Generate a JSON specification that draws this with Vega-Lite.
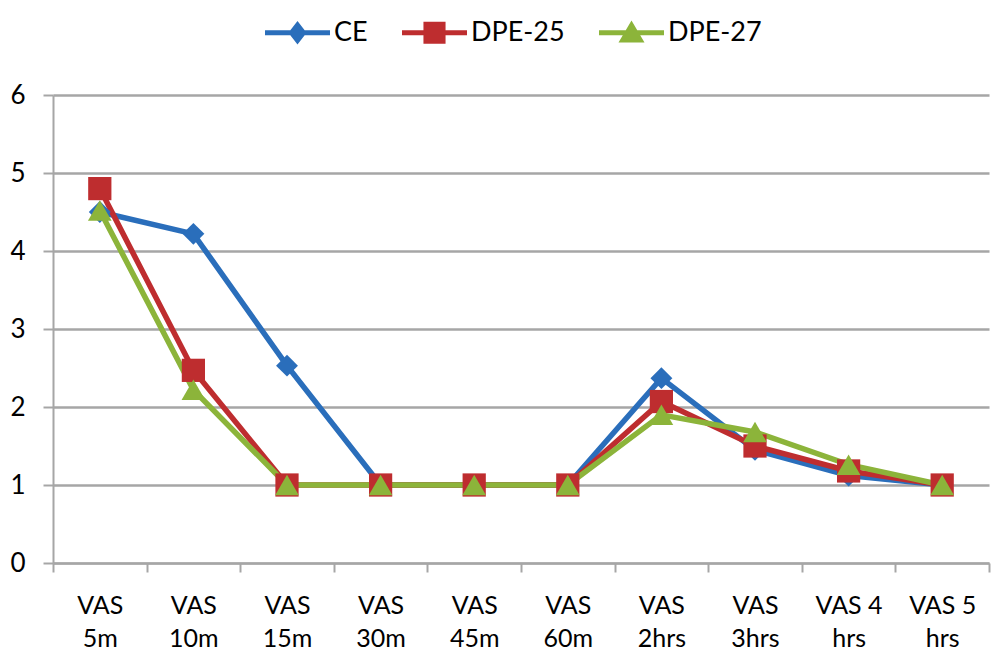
{
  "$schema": "https://vega.github.io/schema/vega-lite/v6.json",
  "width": 1003,
  "height": 667,
  "autosize": {"type": "fit", "contains": "padding"},
  "padding": {"left": 9, "top": 82, "right": 13, "bottom": 16},
  "background": "white",
  "config": {
    "font": "Lato",
    "view": {"stroke": null},
    "axis": {"labelFont": "Lato", "labelFontSize": 25, "labelColor": "#000000"}
  },
  "data": {
    "values": [
      {"time": "VAS 5m", "series": "CE", "value": 4.5},
      {"time": "VAS 10m", "series": "CE", "value": 4.22},
      {"time": "VAS 15m", "series": "CE", "value": 2.53},
      {"time": "VAS 30m", "series": "CE", "value": 1},
      {"time": "VAS 45m", "series": "CE", "value": 1},
      {"time": "VAS 60m", "series": "CE", "value": 1},
      {"time": "VAS 2hrs", "series": "CE", "value": 2.37},
      {"time": "VAS 3hrs", "series": "CE", "value": 1.45},
      {"time": "VAS 4 hrs", "series": "CE", "value": 1.12},
      {"time": "VAS 5 hrs", "series": "CE", "value": 1},
      {"time": "VAS 5m", "series": "DPE-25", "value": 4.8},
      {"time": "VAS 10m", "series": "DPE-25", "value": 2.47},
      {"time": "VAS 15m", "series": "DPE-25", "value": 1},
      {"time": "VAS 30m", "series": "DPE-25", "value": 1},
      {"time": "VAS 45m", "series": "DPE-25", "value": 1},
      {"time": "VAS 60m", "series": "DPE-25", "value": 1},
      {"time": "VAS 2hrs", "series": "DPE-25", "value": 2.07},
      {"time": "VAS 3hrs", "series": "DPE-25", "value": 1.5},
      {"time": "VAS 4 hrs", "series": "DPE-25", "value": 1.18},
      {"time": "VAS 5 hrs", "series": "DPE-25", "value": 1},
      {"time": "VAS 5m", "series": "DPE-27", "value": 4.52},
      {"time": "VAS 10m", "series": "DPE-27", "value": 2.22},
      {"time": "VAS 15m", "series": "DPE-27", "value": 1},
      {"time": "VAS 30m", "series": "DPE-27", "value": 1},
      {"time": "VAS 45m", "series": "DPE-27", "value": 1},
      {"time": "VAS 60m", "series": "DPE-27", "value": 1},
      {"time": "VAS 2hrs", "series": "DPE-27", "value": 1.9},
      {"time": "VAS 3hrs", "series": "DPE-27", "value": 1.68},
      {"time": "VAS 4 hrs", "series": "DPE-27", "value": 1.26},
      {"time": "VAS 5 hrs", "series": "DPE-27", "value": 1}
    ]
  },
  "encoding": {
    "x": {
      "field": "time",
      "type": "ordinal",
      "bandPosition": 0.5,
      "sort": ["VAS 5m", "VAS 10m", "VAS 15m", "VAS 30m", "VAS 45m", "VAS 60m", "VAS 2hrs", "VAS 3hrs", "VAS 4 hrs", "VAS 5 hrs"],
      "scale": {"type": "band", "paddingInner": 0, "paddingOuter": 0},
      "axis": {
        "title": null,
        "labelAngle": 0,
        "labelExpr": "[slice(datum.label, 0, lastindexof(datum.label, ' ')), slice(datum.label, lastindexof(datum.label, ' ') + 1)]",
        "labelLineHeight": 33,
        "labelPadding": 21,
        "labelBaseline": "top",
        "tickBand": "extent",
        "tickSize": 9,
        "tickColor": "#a6a6a6",
        "tickWidth": 2,
        "domainColor": "#a6a6a6",
        "domainWidth": 2,
        "grid": false
      }
    },
    "y": {
      "field": "value",
      "type": "quantitative",
      "scale": {"domain": [0, 6], "nice": false},
      "axis": {
        "title": null,
        "values": [0, 1, 2, 3, 4, 5, 6],
        "grid": true,
        "gridColor": "#a6a6a6",
        "gridWidth": 2.5,
        "tickSize": 10,
        "tickColor": "#a6a6a6",
        "tickWidth": 2,
        "domainColor": "#a6a6a6",
        "domainWidth": 2,
        "labelPadding": 18,
        "labelFontSize": 26
      }
    },
    "color": {
      "field": "series",
      "type": "nominal",
      "scale": {"domain": ["CE", "DPE-25", "DPE-27"], "range": ["#2a6ebb", "#be2d2f", "#8cb43a"]},
      "legend": {
        "title": null,
        "orient": "none",
        "legendX": 212,
        "legendY": -95,
        "direction": "horizontal",
        "labelFont": "Lato",
        "labelFontSize": 27,
        "labelColor": "#000000",
        "symbolSize": 4225,
        "labelOffset": 4,
        "columnPadding": 34,
        "encode": {
          "symbols": {
            "update": {
              "shape": {"signal": "datum.value === 'CE' ? 'M-1,-0.08H1V0.08H-1Z M0,-0.36L0.28,0L0,0.36L-0.28,0Z' : datum.value === 'DPE-25' ? 'M-1,-0.08H1V0.08H-1Z M-0.34,-0.34H0.34V0.34H-0.34Z' : 'M-1,-0.08H1V0.08H-1Z M0,-0.38L0.4,0.3H-0.4Z'"},
              "fill": {"signal": "scale('color', datum.value)"},
              "fillOpacity": {"value": 1},
              "strokeWidth": {"value": 0}
            }
          }
        }
      }
    }
  },
  "layer": [
    {
      "mark": {"type": "line", "strokeWidth": 5.5},
      "encoding": {}
    },
    {
      "transform": [{"filter": "datum.series === 'CE'"}],
      "mark": {"type": "point", "filled": true, "opacity": 1, "shape": "diamond", "size": 480}
    },
    {
      "transform": [{"filter": "datum.series === 'DPE-25'"}],
      "mark": {"type": "point", "filled": true, "opacity": 1, "shape": "square", "size": 540}
    },
    {
      "transform": [{"filter": "datum.series === 'DPE-27'"}],
      "mark": {"type": "point", "filled": true, "opacity": 1, "shape": "triangle-up", "size": 560}
    }
  ]
}
